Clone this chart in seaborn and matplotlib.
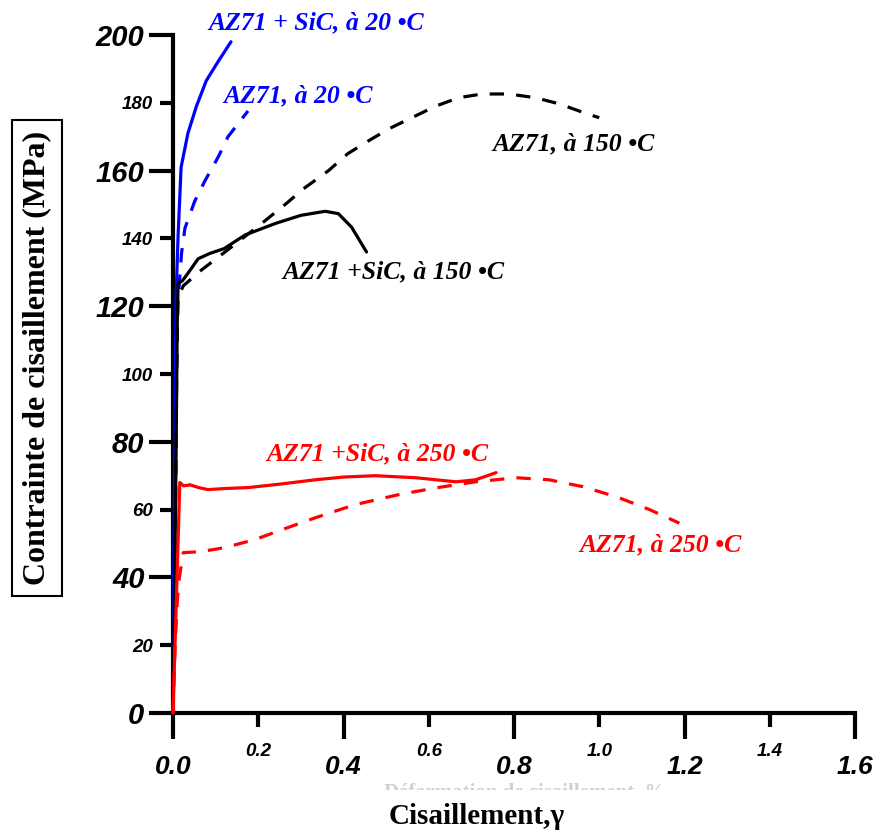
import matplotlib
matplotlib.use("Agg")
import matplotlib.pyplot as plt
import seaborn as sns
import pandas as pd
from matplotlib.transforms import Bbox, TransformedBbox

# ---- data ----
az_sic_20_x = [0.0, 0.003, 0.007, 0.012, 0.019, 0.035, 0.055, 0.078, 0.105, 0.136]
az_sic_20_y = [0.0, 60.0, 122.0, 141.0, 161.0, 171.0, 179.0, 186.5, 192.0, 198.0]

az_20_x = [0.0, 0.004, 0.008, 0.012, 0.02, 0.028, 0.051, 0.075, 0.106, 0.129, 0.176]
az_20_y = [0.0, 60.0, 100.0, 122.0, 135.6, 143.0, 151.0, 157.0, 164.0, 170.0, 177.6]

az_sic_150_x = [0.0, 0.006, 0.01, 0.012, 0.022, 0.035, 0.059, 0.085, 0.12, 0.169, 0.24,
                0.30, 0.357, 0.388, 0.419, 0.454]
az_sic_150_y = [0.0, 60.0, 115.0, 126.7, 127.5, 129.7, 134.0, 135.5, 137.0, 141.0, 144.4,
                146.8, 148.0, 147.3, 143.3, 136.0]

az_150_x = [0.0, 0.006, 0.01, 0.024, 0.066, 0.122, 0.208, 0.263, 0.31, 0.365, 0.41, 0.459,
            0.506, 0.56, 0.616, 0.67, 0.725, 0.788, 0.85, 0.906, 0.97, 1.0]
az_150_y = [0.0, 60.0, 122.0, 126.0, 130.6, 136.0, 144.4, 150.0, 155.0, 160.0, 165.0, 168.8,
            172.3, 175.6, 179.0, 181.5, 182.6, 182.6, 181.5, 179.7, 176.8, 175.6]

az_sic_250_x = [0.0, 0.016, 0.025, 0.04, 0.06, 0.082, 0.12, 0.176, 0.25, 0.334, 0.4, 0.475,
                0.569, 0.664, 0.71, 0.758]
az_sic_250_y = [0.0, 68.0, 67.0, 67.3, 66.5, 65.9, 66.2, 66.5, 67.5, 68.8, 69.6, 70.0,
                69.4, 68.2, 68.8, 70.9]

az_250_x = [0.0, 0.005, 0.01, 0.015, 0.024, 0.066, 0.122, 0.193, 0.254, 0.334, 0.428, 0.529,
            0.616, 0.71, 0.805, 0.882, 0.96, 1.04, 1.118, 1.188]
az_250_y = [0.0, 20.0, 33.0, 40.0, 47.3, 47.6, 48.8, 51.2, 54.0, 57.6, 61.5, 64.4,
            66.4, 68.2, 69.4, 68.8, 66.8, 63.8, 60.0, 56.0]

curve_labels = ["AZ71 + SiC, à 20 •C", "AZ71, à 20 •C", "AZ71 +SiC, à 150 •C",
                "AZ71, à 150 •C", "AZ71 +SiC, à 250 •C", "AZ71, à 250 •C"]

x_major = [0.0, 0.4, 0.8, 1.2, 1.6]
x_minor = [0.2, 0.6, 1.0, 1.4]
y_major = [0, 40, 80, 120, 160, 200]
y_minor = [20, 60, 100, 140, 180]

x_title = "Cisaillement,γ"
y_title = "Contrainte de cisaillement (MPa)"
hidden_title = "Déformation de cisaillement, %"

# ---- figure ----
sns.set_style("white")
plt.rcParams['font.family'] = ['Liberation Serif', 'DejaVu Serif']

W, H = 880, 833
fig = plt.figure(figsize=(8.8, 8.33), dpi=100)
x0, x1, y0, y1 = 173, 855, 713, 35
ax = fig.add_axes([x0 / W, 1 - y0 / H, (x1 - x0) / W, (y0 - y1) / H])

BLUE = (0, 0, 1)
RED = (1, 0, 0)
BLACK = (0, 0, 0)
lw = 2.3

def draw(xs, ys, color, dashed):
    df = pd.DataFrame({"x": xs, "y": ys})
    sns.lineplot(data=df, x="x", y="y", sort=False, estimator=None,
                 color=color, lw=lw, ax=ax)
    ln = ax.lines[-1]
    if dashed:
        ln.set_dashes([4.5, 3.8])
    ln.set_solid_capstyle("round")
    ln.set_solid_joinstyle("round")
    ln.set_dash_capstyle("butt")
    ln.set_clip_on(False)

draw(az_sic_20_x, az_sic_20_y, BLUE, False)
draw(az_20_x, az_20_y, BLUE, True)
draw(az_sic_150_x, az_sic_150_y, BLACK, False)
draw(az_150_x, az_150_y, BLACK, True)
draw(az_sic_250_x, az_sic_250_y, RED, False)
draw(az_250_x, az_250_y, RED, True)

ax.set_xlim(0, 1.6)
ax.set_ylim(0, 200)

# spines
for s in ["top", "right"]:
    ax.spines[s].set_visible(False)
for s in ["left", "bottom"]:
    ax.spines[s].set_linewidth(3.0)
    ax.spines[s].set_color("black")
    ax.spines[s].set_zorder(1)

# ticks
ax.set_xticks(x_major)
ax.set_xticklabels([f"{v:.1f}" for v in x_major])
ax.set_xticks(x_minor, minor=True)
ax.set_xticklabels([f"{v:.1f}" for v in x_minor], minor=True)
ax.set_yticks(y_major)
ax.set_yticklabels([str(v) for v in y_major])
ax.set_yticks(y_minor, minor=True)
ax.set_yticklabels([str(v) for v in y_minor], minor=True)

ax.tick_params(axis="x", which="major", direction="out", length=18.5, width=3, pad=11.5)
ax.tick_params(axis="x", which="minor", direction="out", length=10, width=3, pad=11.5)
ax.tick_params(axis="y", which="major", direction="out", length=17, width=3, pad=3.5)
ax.tick_params(axis="y", which="minor", direction="out", length=9.5, width=3, pad=5)
ax.tick_params(left=True, bottom=True, which="both", colors="black")

def style(labels, size):
    for lab in labels:
        lab.set_fontfamily("Liberation Sans")
        lab.set_fontweight("bold")
        lab.set_fontstyle("italic")
        lab.set_fontsize(size)
        lab.set_color("black")

style(ax.get_xticklabels(), 19)
style(ax.get_yticklabels(), 21)
style(ax.get_xticklabels(minor=True), 13.5)
style(ax.get_yticklabels(minor=True), 13.5)

ax.set_xlabel("")
ax.set_ylabel("")

# partially hidden grey title (only the very tops of the letters show)
ht = fig.text(525 / W, 1 - 793 / H, hidden_title, ha="center", va="center",
              fontsize=15, color="#d0d0d0", fontweight="bold")
ht.set_clip_box(TransformedBbox(Bbox([[0, 1 - 790 / H], [1, 1 - 783 / H]]), fig.transFigure))
ht.set_clip_on(True)

# axis titles
fig.text(477 / W, 1 - 817 / H, x_title, ha="center", va="center",
         fontsize=21, fontweight="bold", color="black")
fig.text(37 / W, 1 - 358 / H, y_title, ha="center",
         va="center", rotation=90, fontsize=23, fontweight="bold", color="black",
         bbox=dict(boxstyle="square,pad=0.33", facecolor="white", edgecolor="black", lw=1.5))

# curve annotations
ann = [
    (curve_labels[0], 0.082, 203.5, BLUE),
    (curve_labels[1], 0.117, 182.0, BLUE),
    (curve_labels[2], 0.256, 130.0, BLACK),
    (curve_labels[3], 0.75, 168.0, BLACK),
    (curve_labels[4], 0.218, 76.5, RED),
    (curve_labels[5], 0.954, 49.7, RED),
]
for t, x, y, c in ann:
    ax.text(x, y, t, color=c, fontsize=18.5, fontweight="bold", fontstyle="italic",
            ha="left", va="center", clip_on=False)

fig.savefig("out.png", dpi=100)
